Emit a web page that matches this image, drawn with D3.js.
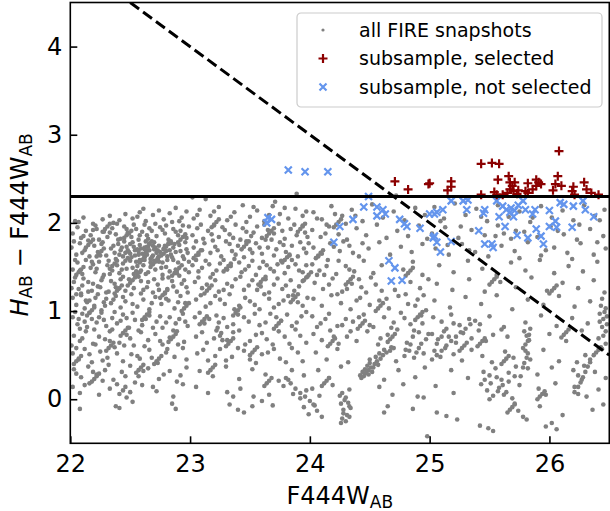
<!DOCTYPE html>
<html>
<head>
<meta charset="utf-8">
<style>
	body { margin: 0; background: #fff; }
	svg { font-family: "DejaVu Sans", sans-serif; }
</style>
</head>
<body>
	<div id="chart"></div>
	<script src="https://cdn.jsdelivr.net/npm/d3@7/dist/d3.min.js"></script>
	<script>
		// axis ticks
		var xTicks = [22, 23, 24, 25, 26];
		var yTicks = [0, 1, 2, 3, 4];

		// colour cut (solid) and the dashed selection line
		var colorCut = 2.3;
		var cutLineX = [22.5, 26.5];
		var cutLineY = [4.5, 0.5];

		var snapA = [
			[22.04,2.02],[22.11,2.06],[22.19,1.99],[22.27,2.04],[22.33,2.08],[22.41,2.03],[22.46,2.1],[22.52,2.05],[22.58,2.12],[22.63,2.02],[22.69,2.09],[22.74,2.14],[22.78,2.04],[22.83,2.11],[22.88,2.17],[22.93,2.06],[22.97,2.13],[22.61,2.16],[22.36,2.0],[22.85,2.01],
			[22.02,1.88],[22.06,1.95],[22.09,1.83],[22.13,1.91],[22.17,1.86],[22.21,1.97],[22.24,1.81],[22.28,1.9],[22.31,1.84],[22.35,1.94],[22.38,1.87],[22.42,1.82],[22.45,1.96],[22.48,1.89],[22.51,1.84],[22.55,1.93],[22.58,1.86],[22.62,1.98],[22.65,1.82],[22.68,1.91],[22.72,1.85],[22.75,1.95],[22.79,1.88],[22.82,1.81],[22.86,1.93],[22.9,1.86],[22.94,1.97],[22.97,1.83],[22.15,1.8],[22.71,1.99],[22.53,1.98],[22.88,1.9],
			[22.01,1.72],[22.05,1.64],[22.08,1.77],[22.12,1.69],[22.16,1.62],[22.2,1.74],[22.23,1.67],[22.27,1.78],[22.3,1.63],[22.34,1.71],[22.37,1.66],[22.4,1.76],[22.42,1.69],[22.44,1.62],[22.47,1.73],[22.49,1.67],[22.52,1.78],[22.54,1.63],[22.56,1.7],[22.58,1.75],[22.6,1.65],[22.62,1.72],[22.64,1.68],[22.66,1.77],[22.68,1.61],[22.7,1.7],[22.72,1.66],[22.74,1.74],[22.76,1.63],[22.78,1.71],[22.8,1.68],[22.82,1.77],[22.84,1.64],[22.86,1.72],[22.88,1.67],[22.91,1.75],[22.94,1.62],[22.97,1.7],[22.5,1.65],[22.57,1.68],[22.63,1.79],[22.73,1.69],[22.45,1.79],[22.81,1.62],[22.69,1.74],
			[22.02,1.47],[22.06,1.55],[22.1,1.42],[22.13,1.58],[22.17,1.49],[22.21,1.44],[22.24,1.56],[22.28,1.41],[22.31,1.52],[22.35,1.46],[22.38,1.59],[22.41,1.43],[22.44,1.54],[22.47,1.48],[22.5,1.57],[22.53,1.42],[22.56,1.51],[22.59,1.46],[22.62,1.58],[22.65,1.44],[22.68,1.53],[22.71,1.47],[22.74,1.56],[22.77,1.41],[22.8,1.5],[22.83,1.45],[22.86,1.58],[22.89,1.43],[22.93,1.52],[22.96,1.47],[22.99,1.56],[22.48,1.6],[22.61,1.52],[22.73,1.6],[22.55,1.45],[22.67,1.59],[22.19,1.53],[22.91,1.4],
			[22.03,1.33],[22.07,1.25],[22.11,1.37],[22.15,1.22],[22.19,1.31],[22.23,1.28],[22.27,1.38],[22.3,1.21],[22.34,1.34],[22.38,1.27],[22.42,1.36],[22.46,1.23],[22.5,1.32],[22.53,1.26],[22.57,1.39],[22.61,1.24],[22.65,1.33],[22.69,1.21],[22.73,1.3],[22.77,1.37],[22.81,1.25],[22.85,1.34],[22.89,1.22],[22.93,1.31],[22.97,1.27],[22.09,1.2],[22.44,1.39],[22.79,1.2],
			[22.02,1.15],[22.05,1.07],[22.09,1.18],[22.12,1.03],[22.16,1.12],[22.2,1.06],[22.23,1.19],[22.26,1.01],[22.3,1.14],[22.34,1.09],[22.38,1.17],[22.42,1.04],[22.46,1.11],[22.51,1.19],[22.56,1.05],[22.61,1.13],[22.66,1.02],[22.71,1.16],[22.76,1.08],[22.82,1.12],[22.87,1.03],[22.92,1.17],[22.96,1.09],[22.14,1.1],[22.29,1.06],
			[22.02,0.93],[22.06,0.85],[22.1,0.97],[22.14,0.82],[22.18,0.91],[22.22,0.87],[22.26,0.98],[22.3,0.83],[22.35,0.92],[22.39,0.86],[22.44,0.96],[22.49,0.81],[22.54,0.9],[22.6,0.84],[22.66,0.95],[22.72,0.88],[22.77,0.81],[22.83,0.93],[22.88,0.86],[22.94,0.97],[22.98,0.83],[22.08,0.8],
			[22.03,0.72],[22.08,0.66],[22.13,0.77],[22.19,0.63],[22.24,0.71],[22.29,0.68],[22.35,0.79],[22.41,0.64],[22.47,0.73],[22.53,0.61],[22.59,0.76],[22.65,0.67],[22.71,0.74],[22.77,0.62],[22.83,0.7],[22.89,0.77],[22.95,0.65],[22.01,0.61],
			[22.02,0.52],[22.07,0.45],[22.12,0.57],[22.18,0.42],[22.25,0.54],[22.31,0.47],[22.37,0.59],[22.44,0.43],[22.51,0.51],[22.58,0.46],[22.66,0.56],[22.73,0.41],[22.8,0.53],[22.87,0.48],[22.94,0.58],
			[22.03,0.34],[22.09,0.25],[22.15,0.37],[22.22,0.28],[22.29,0.33],[22.36,0.22],[22.43,0.31],[22.5,0.38],[22.57,0.26],[22.65,0.35],[22.74,0.23],[22.83,0.32],[22.92,0.27],
			[22.02,0.14],[22.08,0.07],[22.16,0.18],[22.24,0.05],[22.33,0.12],[22.41,0.06],[22.44,0.1],[22.47,0.02],[22.5,0.08],[22.46,0.14],[22.6,0.16],[22.72,0.09],[22.86,0.03],[22.94,0.17],
			[22.08,-0.11],[22.38,-0.08],[22.41,-0.1],[22.85,-0.05],[22.88,-0.11],[22.52,-0.03]
		];
		var snapA2 = [
			[22.07,2.01],[22.22,1.93],[22.39,1.99],[22.56,2.07],[22.66,1.94],[22.8,1.97],[22.91,2.02],[22.99,1.96],
			[22.03,1.79],[22.11,1.85],[22.19,1.92],[22.26,1.76],[22.33,1.89],[22.4,1.81],[22.47,1.93],[22.5,1.76],[22.57,1.81],[22.6,1.9],[22.64,1.86],[22.7,1.78],[22.77,1.92],[22.84,1.77],[22.92,1.91],[22.96,1.78],
			[22.04,1.58],[22.1,1.66],[22.18,1.56],[22.25,1.63],[22.32,1.57],[22.36,1.74],[22.39,1.52],[22.41,1.64],[22.43,1.72],[22.46,1.57],[22.48,1.69],[22.51,1.61],[22.53,1.73],[22.55,1.56],[22.57,1.64],[22.59,1.71],[22.61,1.59],[22.63,1.66],[22.65,1.73],[22.67,1.55],[22.69,1.63],[22.71,1.72],[22.73,1.58],[22.75,1.67],[22.77,1.55],[22.79,1.74],[22.81,1.58],[22.83,1.69],[22.85,1.61],[22.87,1.76],[22.9,1.55],[22.92,1.68],[22.95,1.59],[22.98,1.66],[22.46,1.66],[22.54,1.69],[22.62,1.62],[22.7,1.57],[22.78,1.65],[22.58,1.58],[22.66,1.69],[22.74,1.62],
			[22.04,1.38],[22.08,1.46],[22.15,1.33],[22.22,1.48],[22.26,1.35],[22.33,1.42],[22.37,1.31],[22.43,1.47],[22.49,1.36],[22.52,1.49],[22.59,1.34],[22.63,1.42],[22.7,1.36],[22.76,1.49],[22.82,1.38],[22.88,1.47],[22.95,1.35],[22.99,1.44],
			[22.01,1.26],[22.05,1.19],[22.1,1.29],[22.13,1.12],[22.18,1.23],[22.21,1.15],[22.25,1.27],[22.28,1.1],[22.32,1.22],[22.36,1.13],[22.4,1.25],[22.44,1.16],[22.48,1.29],[22.52,1.08],[22.59,1.2],[22.64,1.27],[22.68,1.09],[22.74,1.24],[22.8,1.14],[22.86,1.28],[22.9,1.1],[22.98,1.21],
			[22.04,0.99],[22.07,0.91],[22.12,0.88],[22.16,0.98],[22.2,0.79],[22.24,0.93],[22.28,0.9],[22.33,0.77],[22.37,0.99],[22.42,0.89],[22.47,0.92],[22.52,0.98],[22.57,0.78],[22.63,0.91],[22.69,0.81],[22.75,0.94],[22.8,0.87],[22.86,0.78],[22.91,0.91],[22.96,0.88],
			[22.05,0.58],[22.1,0.69],[22.16,0.51],[22.21,0.62],[22.27,0.44],[22.33,0.66],[22.39,0.52],[22.45,0.61],[22.5,0.69],[22.56,0.49],[22.62,0.6],[22.68,0.47],[22.75,0.66],[22.81,0.57],[22.9,0.62],[22.97,0.45],
			[22.05,0.29],[22.12,0.16],[22.19,0.31],[22.27,0.21],[22.32,0.39],[22.39,0.17],[22.46,0.26],[22.54,0.19],[22.61,0.32],[22.69,0.14],[22.78,0.28],[22.89,0.2],[22.97,0.36]
		];
		var snapB = [
			[23.03,2.05],[23.08,2.15],[23.13,2.27],[23.02,2.29],[23.17,2.08],[23.24,2.18],[23.31,2.03],[23.37,2.12],[23.44,2.2],[23.5,2.07],[23.56,2.14],[23.62,2.02],[23.69,2.19],[23.75,2.1],[23.82,2.05],[23.88,2.16],[23.94,2.08],[23.89,2.33],[23.47,2.01],[23.71,2.24],
			[23.02,1.86],[23.06,1.94],[23.11,1.82],[23.15,1.91],[23.2,1.97],[23.24,1.84],[23.29,1.92],[23.33,1.87],[23.38,1.98],[23.42,1.81],[23.47,1.9],[23.51,1.85],[23.56,1.96],[23.6,1.83],[23.65,1.92],[23.7,1.88],[23.74,1.99],[23.79,1.82],[23.84,1.93],[23.89,1.86],[23.94,1.97],[23.98,1.84],
			[23.03,1.72],[23.07,1.64],[23.12,1.77],[23.17,1.66],[23.21,1.73],[23.26,1.62],[23.3,1.79],[23.35,1.68],[23.4,1.74],[23.45,1.61],[23.5,1.7],[23.55,1.77],[23.6,1.65],[23.65,1.72],[23.7,1.63],[23.75,1.78],[23.8,1.67],[23.85,1.74],[23.9,1.62],[23.95,1.71],[23.99,1.77],
			[23.02,1.52],[23.07,1.45],[23.13,1.57],[23.19,1.42],[23.25,1.54],[23.31,1.47],[23.37,1.59],[23.43,1.44],[23.49,1.51],[23.55,1.41],[23.61,1.56],[23.67,1.48],[23.73,1.53],[23.79,1.43],[23.85,1.58],[23.91,1.46],[23.97,1.52],
			[23.04,1.33],[23.1,1.26],[23.17,1.38],[23.24,1.22],[23.31,1.31],[23.38,1.36],[23.45,1.24],[23.52,1.35],[23.59,1.28],[23.66,1.21],[23.73,1.37],[23.8,1.29],[23.87,1.23],[23.94,1.34],
			[23.05,1.13],[23.13,1.05],[23.21,1.17],[23.29,1.08],[23.37,1.02],[23.46,1.15],[23.54,1.07],[23.62,1.19],[23.7,1.04],[23.78,1.12],[23.86,1.18],[23.94,1.06],
			[23.04,0.93],[23.12,0.86],[23.22,0.95],[23.24,0.87],[23.31,0.82],[23.4,0.96],[23.49,0.88],[23.58,0.84],[23.67,0.97],[23.76,0.89],[23.85,0.83],[23.93,0.94],
			[23.22,0.78],[23.25,0.72],[23.27,0.67],[23.23,0.81],[23.26,0.75],[23.05,0.71],[23.14,0.64],[23.36,0.76],[23.46,0.62],[23.55,0.73],[23.64,0.68],[23.74,0.77],[23.83,0.63],[23.92,0.72],
			[23.06,0.52],[23.15,0.44],[23.25,0.57],[23.35,0.48],[23.45,0.55],[23.55,0.41],[23.65,0.53],[23.75,0.46],[23.85,0.58],[23.94,0.43],
			[23.08,0.32],[23.19,0.26],[23.3,0.37],[23.41,0.23],[23.52,0.34],[23.63,0.28],[23.74,0.21],[23.85,0.33],[23.82,0.22],[23.95,0.27],
			[23.05,0.14],[23.15,0.07],[23.31,0.08],[23.36,0.03],[23.42,0.12],[23.53,0.03],[23.6,-0.02],[23.66,0.05],[23.78,0.15],[23.86,0.06],[23.92,0.01],[23.97,0.1],
			[23.33,-0.06],[23.4,-0.12],[23.45,-0.15],[23.52,-0.08],[23.69,-0.07],[23.95,-0.09],[23.99,-0.17]
		];
		var snapB2 = [
			[23.06,2.09],[23.2,2.13],[23.34,2.07],[23.53,2.18],[23.66,2.09],[23.79,2.17],[23.97,2.13],
			[23.09,1.98],[23.18,1.87],[23.27,1.95],[23.36,1.83],[23.44,1.94],[23.53,1.89],[23.62,1.98],[23.68,1.81],[23.77,1.91],[23.87,1.98],[23.96,1.89],
			[23.05,1.79],[23.1,1.69],[23.19,1.8],[23.23,1.69],[23.33,1.76],[23.38,1.64],[23.47,1.79],[23.52,1.66],[23.58,1.72],[23.63,1.81],[23.72,1.7],[23.78,1.75],[23.83,1.63],[23.92,1.78],[23.97,1.66],
			[23.05,1.58],[23.1,1.49],[23.16,1.53],[23.22,1.46],[23.28,1.58],[23.34,1.51],[23.41,1.55],[23.46,1.47],[23.52,1.57],[23.58,1.49],[23.64,1.52],[23.7,1.45],[23.76,1.57],[23.82,1.5],[23.88,1.53],[23.94,1.44],
			[23.07,1.38],[23.14,1.3],[23.21,1.35],[23.28,1.24],[23.35,1.28],[23.42,1.39],[23.49,1.29],[23.56,1.24],[23.63,1.36],[23.7,1.3],[23.77,1.25],[23.84,1.35],[23.91,1.28],[23.98,1.39],
			[23.09,1.18],[23.17,1.09],[23.25,1.13],[23.33,1.19],[23.41,1.06],[23.5,1.11],[23.58,1.02],[23.66,1.14],[23.74,1.08],[23.82,1.17],[23.9,1.1],[23.98,1.15],
			[23.08,0.98],[23.16,0.91],[23.28,0.92],[23.36,0.85],[23.45,0.93],[23.54,0.97],[23.63,0.87],[23.72,0.93],[23.81,0.96],[23.89,0.87],[23.97,0.99],
			[23.1,0.76],[23.2,0.69],[23.31,0.67],[23.41,0.78],[23.5,0.66],[23.6,0.75],[23.69,0.62],[23.79,0.71],[23.88,0.79],[23.97,0.64],
			[23.11,0.56],[23.21,0.49],[23.3,0.44],[23.4,0.58],[23.5,0.45],[23.6,0.51],[23.7,0.57],[23.8,0.42],[23.9,0.53],
			[23.8,0.24],[23.84,0.18],[23.88,0.12],[23.92,0.07],[23.96,0.03],[24.0,-0.02],[24.04,-0.07]
		];
		var snapC = [
			[24.03,2.12],[24.1,2.04],[24.18,2.19],[24.27,2.08],[24.35,2.15],[24.44,2.02],[24.52,2.21],[24.61,2.06],[24.7,2.13],[24.79,2.03],[24.88,2.17],[24.96,2.09],[24.72,2.31],
			[24.02,1.92],[24.09,1.84],[24.16,1.96],[24.24,1.87],[24.31,1.81],[24.39,1.94],[24.47,1.86],[24.56,1.98],[24.64,1.83],[24.73,1.91],[24.82,1.85],[24.91,1.97],[24.98,1.82],
			[24.03,1.72],[24.1,1.65],[24.17,1.77],[24.25,1.68],[24.33,1.74],[24.41,1.62],[24.49,1.71],[24.58,1.78],[24.67,1.64],[24.76,1.73],[24.85,1.67],[24.94,1.76],
			[24.02,1.53],[24.08,1.46],[24.15,1.58],[24.22,1.42],[24.3,1.51],[24.37,1.45],[24.45,1.57],[24.53,1.43],[24.6,1.52],[24.78,1.47],[24.86,1.56],[24.94,1.41],[24.12,1.41],
			[24.04,1.32],[24.11,1.25],[24.19,1.37],[24.27,1.22],[24.35,1.31],[24.43,1.27],[24.51,1.38],[24.6,1.23],[24.84,1.33],[24.92,1.26],[24.99,1.36],
			[24.03,1.14],[24.1,1.06],[24.18,1.18],[24.26,1.09],[24.34,1.02],[24.42,1.15],[24.5,1.07],[24.58,1.12],[24.66,1.03],[24.74,1.17],[24.82,1.08],[24.9,1.13],[24.97,1.01],
			[24.02,0.94],[24.09,0.86],[24.16,0.97],[24.23,0.83],[24.3,0.91],[24.36,0.88],[24.45,0.96],[24.53,0.82],[24.62,0.93],[24.7,0.87],[24.76,0.98],[24.84,0.85],[24.93,0.95],
			[24.03,0.74],[24.1,0.67],[24.17,0.78],[24.24,0.63],[24.31,0.71],[24.39,0.66],[24.48,0.77],[24.57,0.62],[24.65,0.73],[24.73,0.79],[24.81,0.64],[24.86,0.71],[24.91,0.76],[24.97,0.68],
			[24.05,0.53],[24.14,0.45],[24.23,0.57],[24.32,0.42],[24.5,0.45],[24.55,0.48],[24.58,0.52],[24.62,0.56],[24.68,0.59],[24.79,0.49],[24.83,0.55],[24.87,0.47],[24.91,0.58],[24.95,0.52],[24.72,0.43],
			[24.42,0.27],[24.44,0.31],[24.46,0.34],[24.48,0.38],[24.47,0.3],[24.5,0.41],[24.53,0.36],[24.45,0.26],[24.07,0.33],[24.16,0.24],[24.26,0.37],[24.62,0.22],[24.74,0.33],[24.88,0.25],[24.96,0.36],
			[24.02,0.12],[24.08,0.04],[24.19,0.16],[24.27,0.07],[24.3,0.02],[24.33,0.11],[24.58,0.14],[24.69,0.05],[24.78,0.17],[24.9,0.03],[24.95,0.02],
			[24.03,-0.06],[24.06,-0.13],[24.1,-0.2],[24.26,-0.05],[24.28,-0.12],[24.31,-0.18],[24.3,-0.25],[24.27,-0.22],[24.33,-0.08],[24.86,-0.11],[24.98,-0.42],[24.62,-0.15],[24.65,-0.08]
		];
		var snapC2 = [
			[24.43,0.24],[24.46,0.29],[24.49,0.33],[24.51,0.36],[24.54,0.4],[24.56,0.43],[24.59,0.46],[24.61,0.5],[24.64,0.53],[24.67,0.55],[24.7,0.58],[24.49,0.28],[24.52,0.31],[24.57,0.39],
			[24.25,0.04],[24.29,-0.01],[24.32,-0.04],[24.34,-0.1],[24.28,-0.16],[24.26,-0.27],[24.33,-0.2],
			[24.06,2.05],[24.14,1.98],[24.21,2.1],[24.3,1.99],[24.38,2.08],[24.13,1.88],[24.2,1.73],[24.28,1.79],[24.36,1.66],[24.44,1.77],[24.07,1.62],[24.14,1.51],[24.24,1.57],[24.33,1.47],[24.41,1.36],
			[24.06,1.41],[24.16,1.3],[24.23,1.19],[24.31,1.25],[24.39,1.12],[24.47,1.21],[24.55,1.3],[24.64,1.14],[24.71,1.24],[24.8,1.19],[24.88,1.06],[24.95,1.18],
			[24.06,0.82],[24.13,0.91],[24.2,0.71],[24.27,0.84],[24.34,0.77],[24.41,0.93],[24.5,0.84],[24.59,0.69],[24.68,0.81],[24.79,0.92],[24.87,0.78],[24.94,0.86],[24.99,0.74],
			[24.8,0.56],[24.84,0.62],[24.89,0.53],[24.93,0.63]
		];
		var snapD = [
			[25.04,2.18],[25.12,2.05],[25.21,2.22],[25.3,2.09],[25.39,2.16],[25.48,2.02],[25.57,2.2],[25.66,2.07],[25.75,2.13],[25.84,2.01],[25.93,2.19],[26.02,2.06],[26.11,2.14],[26.2,2.03],[26.29,2.2],[26.38,2.08],[26.46,2.15],
			[25.02,1.88],[25.13,1.95],[25.24,1.83],[25.35,1.92],[25.46,1.86],[25.57,1.97],[25.68,1.82],[25.72,1.91],[25.79,1.9],[25.9,1.84],[26.01,1.96],[26.12,1.87],[26.23,1.81],[26.34,1.93],[26.45,1.85],
			[25.05,1.71],[25.16,1.64],[25.27,1.76],[25.38,1.67],[25.49,1.62],[25.6,1.74],[25.71,1.68],[25.82,1.78],[25.93,1.63],[26.04,1.72],[26.15,1.66],[26.26,1.77],[26.37,1.64],[26.47,1.71],
			[25.08,1.52],[25.2,1.44],[25.32,1.57],[25.44,1.48],[25.56,1.41],[25.68,1.55],[25.8,1.46],[25.92,1.58],[26.04,1.43],[26.16,1.51],[26.28,1.45],[26.4,1.56],
			[25.06,1.31],[25.19,1.24],[25.33,1.36],[25.46,1.22],[25.59,1.33],[25.72,1.27],[25.85,1.38],[25.98,1.23],[26.11,1.32],[26.24,1.26],[26.37,1.35],[26.46,1.21],
			[25.04,1.12],[25.17,1.04],[25.3,1.16],[25.43,1.08],[25.56,1.18],[25.69,1.02],[25.82,1.13],[25.95,1.07],[26.08,1.17],[26.21,1.05],[26.34,1.11],[26.44,1.14],[26.47,1.03],
			[25.03,0.93],[25.1,0.88],[25.18,0.96],[25.25,0.84],[25.33,0.91],[25.42,0.85],[25.5,0.94],[25.62,0.82],[25.8,0.87],[25.93,0.95],[26.06,0.83],[26.19,0.92],[26.32,0.86],[26.42,0.97],[26.45,0.91],[26.48,0.85],[26.44,0.82],
			[25.02,0.74],[25.07,0.68],[25.12,0.77],[25.16,0.71],[25.22,0.64],[25.28,0.75],[25.35,0.69],[25.41,0.78],[25.47,0.66],[25.53,0.73],[25.6,0.79],[25.65,0.71],[25.79,0.77],[25.81,0.72],[25.83,0.67],[25.8,0.62],[26.0,0.74],[26.14,0.66],[26.27,0.78],[26.41,0.69],[26.47,0.63],
			[25.04,0.55],[25.09,0.48],[25.13,0.58],[25.2,0.51],[25.27,0.44],[25.35,0.56],[25.44,0.49],[25.52,0.42],[25.63,0.54],[25.7,0.47],[25.78,0.58],[25.82,0.52],[25.84,0.45],[25.95,0.56],[26.08,0.43],[26.23,0.42],[26.3,0.5],[26.34,0.45],[26.44,0.57],
			[25.18,0.33],[25.32,0.24],[25.45,0.31],[25.5,0.27],[25.55,0.35],[25.6,0.22],[25.66,0.3],[25.72,0.37],[25.76,0.26],[25.82,0.35],[25.9,0.28],[26.02,0.36],[26.2,0.33],[26.24,0.27],[26.29,0.38],[26.27,0.22],[26.38,0.31],[26.47,0.24],
			[25.05,0.15],[25.2,0.07],[25.43,0.17],[25.48,0.1],[25.53,0.04],[25.58,0.13],[25.64,0.08],[25.69,0.01],[25.75,0.16],[25.91,0.12],[25.97,0.05],[26.05,0.18],[26.21,0.14],[26.24,0.06],[26.31,0.03],[26.41,0.11],
			[25.06,-0.15],[25.14,-0.19],[25.23,-0.23],[25.42,-0.3],[25.49,-0.33],[25.53,-0.36],[25.71,-0.05],[25.74,-0.13],[25.78,-0.2],[25.81,-0.23],[25.92,-0.08],[25.97,-0.31],[26.02,-0.27],[26.06,-0.34],[26.11,-0.18],[26.36,-0.12],[26.45,-0.06]
		];
		var snapD2 = [
			[25.02,0.45],[25.06,0.5],[25.1,0.55],[25.14,0.61],[25.18,0.66],[25.22,0.71],[25.26,0.76],[25.3,0.8],[25.34,0.85],[25.38,0.89],[25.06,0.63],[25.1,0.71],[25.14,0.8],[25.2,0.86],
			[25.79,0.41],[25.81,0.47],[25.8,0.55],[25.82,0.66],[25.83,0.73],[25.84,0.8],[25.78,0.36],
			[25.46,0.22],[25.51,0.18],[25.56,0.25],[25.61,0.16],[25.66,0.2],[25.71,0.26],[25.62,0.05],[25.57,0.09],[25.5,0.0],
			[26.21,0.08],[26.24,0.14],[26.26,0.19],[26.28,0.25],[26.3,0.31],[26.32,0.37],[26.34,0.42],
			[25.09,2.02],[25.26,1.96],[25.43,2.07],[25.62,1.88],[25.86,2.06],[26.07,1.91],[26.25,1.98],[26.42,2.03],[25.15,1.75],[25.33,1.69],[25.55,1.85],[25.75,1.6],[25.97,1.69],[26.19,1.59],[26.4,1.78],
			[26.43,1.06],[26.46,0.99],[26.48,0.94],[26.42,0.88],[26.47,0.77],[26.45,0.72]
		];
		// short tracks of consecutive snapshots
		var snapTracks = [
			[22.05,1.41],[22.07,1.44],[22.09,1.47],[22.11,1.5],[22.14,0.95],[22.16,0.98],[22.18,1.01],[22.2,1.04],
			[22.22,1.62],[22.24,1.65],[22.26,1.68],[22.28,1.71],[22.3,0.55],[22.32,0.58],[22.34,0.61],[22.36,0.64],
			[22.37,1.2],[22.39,1.23],[22.41,1.26],[22.43,1.29],[22.45,1.83],[22.47,1.86],[22.49,1.88],[22.51,1.91],
			[22.52,1.35],[22.54,1.38],[22.56,1.41],[22.58,1.44],[22.6,0.9],[22.62,0.93],[22.64,0.96],[22.66,0.99],
			[22.67,1.5],[22.69,1.53],[22.71,1.56],[22.73,1.59],[22.75,1.15],[22.77,1.18],[22.79,1.21],[22.81,1.24],
			[22.82,0.65],[22.84,0.68],[22.86,0.71],[22.88,0.74],[22.9,1.78],[22.92,1.81],[22.94,1.84],[22.96,1.87],
			[22.03,0.4],[22.05,0.43],[22.07,0.46],[22.09,0.49],[22.18,0.2],[22.2,0.23],[22.22,0.26],[22.24,0.29],
			[22.55,0.3],[22.57,0.33],[22.59,0.36],[22.61,0.39],[22.7,0.4],[22.72,0.43],[22.74,0.46],[22.76,0.49],
			[22.42,0.72],[22.44,0.75],[22.46,0.78],[22.48,0.81],[22.13,1.72],[22.15,1.75],[22.17,1.78],[22.19,1.81],
			[22.33,1.48],[22.35,1.51],[22.37,1.54],[22.39,1.57],[22.62,1.7],[22.64,1.73],[22.66,1.76],[22.68,1.79],
			[22.85,1.4],[22.87,1.43],[22.89,1.46],[22.91,1.49],[22.93,1.0],[22.95,1.03],[22.97,1.06],[22.99,1.09],
			[22.27,1.9],[22.29,1.93],[22.31,1.96],[22.33,1.99],[22.58,1.55],[22.6,1.58],[22.62,1.61],[22.64,1.64],
			[22.78,1.7],[22.8,1.73],[22.82,1.76],[22.84,1.79],
			[23.03,1.6],[23.05,1.63],[23.07,1.66],[23.09,1.69],[23.12,1.2],[23.14,1.23],[23.16,1.26],[23.18,1.29],
			[23.18,1.95],[23.2,1.98],[23.22,2.01],[23.24,2.04],[23.28,1.45],[23.3,1.48],[23.32,1.51],[23.34,1.54],
			[23.36,0.95],[23.38,0.98],[23.4,1.01],[23.42,1.04],[23.43,1.7],[23.45,1.73],[23.47,1.76],[23.49,1.79],
			[23.5,0.5],[23.52,0.53],[23.54,0.56],[23.56,0.59],[23.57,1.3],[23.59,1.33],[23.61,1.36],[23.63,1.39],
			[23.64,1.85],[23.66,1.88],[23.68,1.91],[23.7,1.94],[23.7,0.8],[23.72,0.83],[23.74,0.86],[23.76,0.89],
			[23.77,1.55],[23.79,1.58],[23.81,1.61],[23.83,1.64],[23.84,1.1],[23.86,1.13],[23.88,1.16],[23.9,1.19],
			[23.9,1.9],[23.92,1.93],[23.94,1.96],[23.96,1.99],[23.15,0.3],[23.17,0.33],[23.19,0.36],[23.21,0.39],
			[23.62,0.15],[23.64,0.18],[23.66,0.21],[23.68,0.24],[23.08,0.85],[23.1,0.88],[23.12,0.91],[23.14,0.94],
			[23.3,0.6],[23.32,0.63],[23.34,0.66],[23.36,0.69],[23.95,1.35],[23.97,1.38],[23.99,1.41],[24.01,1.44],
			[24.05,1.6],[24.07,1.63],[24.09,1.66],[24.11,1.69],[24.15,0.6],[24.17,0.63],[24.19,0.66],[24.21,0.69],
			[24.2,1.95],[24.22,1.98],[24.24,2.01],[24.26,2.04],[24.3,1.3],[24.32,1.33],[24.34,1.36],[24.36,1.39],
			[24.4,0.8],[24.42,0.83],[24.44,0.86],[24.46,0.89],[24.55,1.0],[24.57,1.03],[24.59,1.06],[24.61,1.09],
			[24.65,0.65],[24.67,0.68],[24.69,0.71],[24.71,0.74],[24.8,1.4],[24.82,1.43],[24.84,1.46],[24.86,1.49],
			[24.88,0.9],[24.9,0.93],[24.92,0.96],[24.94,0.99],[24.1,0.15],[24.12,0.18],[24.14,0.21],[24.16,0.24],
			[25.25,0.55],[25.27,0.58],[25.29,0.61],[25.31,0.64],[25.4,0.6],[25.42,0.63],[25.44,0.66],[25.46,0.69],
			[25.6,0.4],[25.62,0.43],[25.64,0.46],[25.66,0.49],[25.9,0.0],[25.92,0.03],[25.94,0.06],[25.96,0.09],
			[26.1,0.7],[26.12,0.73],[26.14,0.76],[26.16,0.79],[25.5,1.3],[25.52,1.33],[25.54,1.36],[25.56,1.39],
			[26.0,1.2],[26.02,1.23],[26.04,1.26],[26.06,1.29],[25.65,-0.15],[25.67,-0.12],[25.69,-0.09],[25.71,-0.06],
			[26.37,0.5],[26.39,0.53],[26.41,0.56],[26.43,0.59]
		];

		// subsample above the cut and inside the wedge
		var selected = [
			[26.08,2.815],[25.43,2.67],[25.52,2.68],[25.58,2.67],[25.57,2.49],[25.66,2.53],[25.67,2.46],[25.71,2.46],[25.67,2.38],[25.70,2.36],[25.74,2.37],
			[24.71,2.47],[24.82,2.38],[24.99,2.44],[25.00,2.45],[25.18,2.47],[25.18,2.41],[25.15,2.37],[25.43,2.32],[25.54,2.35],[25.56,2.32],[25.61,2.32],
			[25.82,2.45],[25.89,2.49],[25.91,2.46],[25.93,2.44],[25.89,2.42],[25.86,2.38],[25.80,2.36],[25.82,2.34],[26.07,2.53],[26.05,2.44],[26.03,2.37],
			[26.10,2.42],[26.20,2.41],[26.19,2.36],[26.21,2.32],[26.29,2.46],[26.31,2.38],[26.35,2.34],[26.41,2.32],[25.69,2.42],[25.73,2.33],[25.65,2.34]
		];
		var notSelected = [
			[23.82,2.60],[23.96,2.58],[24.15,2.58],[23.65,2.06],[23.64,2.00],[23.68,2.04],[24.20,1.78],[24.25,1.96],[24.36,2.04],
			[24.49,2.30],[24.45,2.18],[24.56,2.18],[24.61,2.15],[24.63,2.10],[24.56,2.08],[24.75,2.04],[24.79,1.99],[24.81,1.96],[24.92,1.94],
			[24.66,1.57],[24.71,1.49],[24.68,1.34],[24.77,1.35],[25.00,2.10],[25.04,2.10],[25.06,2.12],[25.11,2.15],[25.18,2.25],[25.28,2.25],[25.31,2.15],
			[25.03,1.83],[25.06,1.78],[25.04,1.85],[25.09,1.67],[25.18,1.79],[25.41,1.91],[25.46,2.15],[25.46,1.76],[25.52,1.76],[25.53,1.72],
			[25.56,2.25],[25.61,2.19],[25.64,2.15],[25.67,2.12],[25.68,2.17],[25.71,2.14],[25.74,2.20],[25.78,2.25],[25.80,2.15],
			[25.63,1.96],[25.73,1.86],[25.82,1.83],[25.88,2.15],[25.89,1.93],[25.93,1.85],[25.95,1.76],
			[26.00,1.96],[26.05,2.02],[26.06,1.95],[26.09,2.23],[26.12,2.21],[26.19,1.95],[26.20,2.19],[26.28,2.25],[26.30,2.15],[26.37,2.07],
			[25.32,2.26],[25.45,2.11],[25.58,2.07],[25.70,2.07],[25.86,2.10],[26.00,2.14]
		];

		var legendLabels = ['all FIRE snapshots', 'subsample, selected', 'subsample, not selected'];

		var greyCol = '#808080', redCol = '#8b0000', blueCol = '#6495ed';
		var W = 610, H = 511;
		var margin = { left: 70.3, top: 2.5, right: 0.7, bottom: 67.7 };
		var width = W - margin.left - margin.right,
			height = H - margin.top - margin.bottom;

		var svg = d3.select('#chart').append('svg')
			.attr('width', W)
			.attr('height', H)
			.append('g')
			.attr('transform', 'translate(' + [margin.left, margin.top] + ')');

		var x = d3.scaleLinear().domain([22, 26.5]).range([0, width]);
		var y = d3.scaleLinear().domain([-0.5, 4.5]).range([height, 0]);

		svg.append('clipPath').attr('id', 'clip')
			.append('rect').attr('width', width).attr('height', height);

		var plot = svg.append('g').attr('clip-path', 'url(#clip)');

		// grey snapshots
		var snaps = snapA.concat(snapA2, snapB, snapB2, snapC, snapC2, snapD, snapD2, snapTracks);
		plot.append('g').selectAll('circle')
			.data(snaps)
			.enter().append('circle')
			.attr('cx', d => x(d[0]))
			.attr('cy', d => y(d[1]))
			.attr('r', 2.3)
			.attr('fill', greyCol);

		// not selected: x markers
		var xm = 3.5;
		plot.append('g').selectAll('path')
			.data(notSelected)
			.enter().append('path')
			.attr('d', d => {
				var cx = x(d[0]), cy = y(d[1]);
				return 'M' + (cx - xm) + ',' + (cy - xm) + 'L' + (cx + xm) + ',' + (cy + xm) +
					'M' + (cx - xm) + ',' + (cy + xm) + 'L' + (cx + xm) + ',' + (cy - xm);
			})
			.attr('stroke', blueCol)
			.attr('stroke-width', 2.2);

		// selected: + markers
		var pm = 4.5;
		plot.append('g').selectAll('path')
			.data(selected)
			.enter().append('path')
			.attr('d', d => {
				var cx = x(d[0]), cy = y(d[1]);
				return 'M' + (cx - pm) + ',' + cy + 'L' + (cx + pm) + ',' + cy +
					'M' + cx + ',' + (cy - pm) + 'L' + cx + ',' + (cy + pm);
			})
			.attr('stroke', redCol)
			.attr('stroke-width', 2.2);

		// cut lines
		plot.append('line')
			.attr('x1', 0).attr('x2', width)
			.attr('y1', y(colorCut)).attr('y2', y(colorCut))
			.attr('stroke', '#000')
			.attr('stroke-width', 3);
		plot.append('line')
			.attr('x1', x(cutLineX[0])).attr('y1', y(cutLineY[0]))
			.attr('x2', x(cutLineX[1])).attr('y2', y(cutLineY[1]))
			.attr('stroke', '#000')
			.attr('stroke-width', 3)
			.attr('stroke-dasharray', '11,5');

		// axes
		svg.append('g')
			.attr('transform', 'translate(0,' + height + ')')
			.call(d3.axisBottom(x).tickValues(xTicks).tickFormat(d3.format('d')).tickSizeInner(-7).tickSizeOuter(0).tickPadding(12))
			.call(g => {
				g.select('.domain').remove();
				g.selectAll('line').attr('stroke', '#000').attr('stroke-width', 1.6);
				g.selectAll('text').attr('font-size', 24).attr('fill', '#000')
					.attr('font-family', '"DejaVu Sans", sans-serif');
			});
		svg.append('g')
			.call(d3.axisLeft(y).tickValues(yTicks).tickFormat(d3.format('d')).tickSizeInner(-7).tickSizeOuter(0).tickPadding(8))
			.call(g => {
				g.select('.domain').remove();
				g.selectAll('line').attr('stroke', '#000').attr('stroke-width', 1.6);
				g.selectAll('text').attr('font-size', 24).attr('fill', '#000')
					.attr('font-family', '"DejaVu Sans", sans-serif');
			});

		svg.append('rect')
			.attr('width', width)
			.attr('height', height)
			.attr('fill', 'none')
			.attr('stroke', '#000')
			.attr('stroke-width', 1.6);

		// axis labels
		var xl = svg.append('text')
			.attr('x', width / 2)
			.attr('y', 504 - margin.top)
			.attr('text-anchor', 'middle')
			.attr('font-size', 24);
		xl.append('tspan').text('F444W');
		xl.append('tspan').attr('font-size', 17).attr('dy', 4).text('AB');

		var yl = svg.append('text')
			.attr('transform', 'translate(' + (28 - margin.left) + ',' + (height / 2 + 2) + ') rotate(-90)')
			.attr('text-anchor', 'middle')
			.attr('font-size', 24);
		yl.append('tspan').attr('font-style', 'italic').text('H');
		yl.append('tspan').attr('font-size', 17).attr('dy', 4).text('AB');
		yl.append('tspan').attr('dy', -4).text(' \u2212 F444W');
		yl.append('tspan').attr('font-size', 17).attr('dy', 4).text('AB');

		// legend
		var leg = svg.append('g')
			.attr('transform', 'translate(' + (297 - margin.left) + ',' + (13 - margin.top) + ')');
		leg.append('rect')
			.attr('width', 305)
			.attr('height', 94)
			.attr('rx', 4)
			.attr('fill', '#fff')
			.attr('fill-opacity', 0.8)
			.attr('stroke', '#ccc')
			.attr('stroke-width', 1.2);
		var rows = leg.selectAll('g.row')
			.data(legendLabels)
			.enter().append('g')
			.attr('class', 'row')
			.attr('transform', (d, i) => 'translate(26,' + [17, 45.5, 74][i] + ')');
		rows.append('text')
			.attr('x', 36)
			.attr('dy', '0.35em')
			.attr('font-size', 19)
			.text(d => d);
		rows.filter((d, i) => i === 0).append('circle')
			.attr('r', 1.6).attr('fill', greyCol);
		rows.filter((d, i) => i === 1).append('path')
			.attr('d', 'M' + -pm + ',0L' + pm + ',0M0,' + -pm + 'L0,' + pm)
			.attr('stroke', redCol).attr('stroke-width', 2.2);
		rows.filter((d, i) => i === 2).append('path')
			.attr('d', 'M' + -xm + ',' + -xm + 'L' + xm + ',' + xm + 'M' + -xm + ',' + xm + 'L' + xm + ',' + -xm)
			.attr('stroke', blueCol).attr('stroke-width', 2.2);
	</script>
</body>
</html>
